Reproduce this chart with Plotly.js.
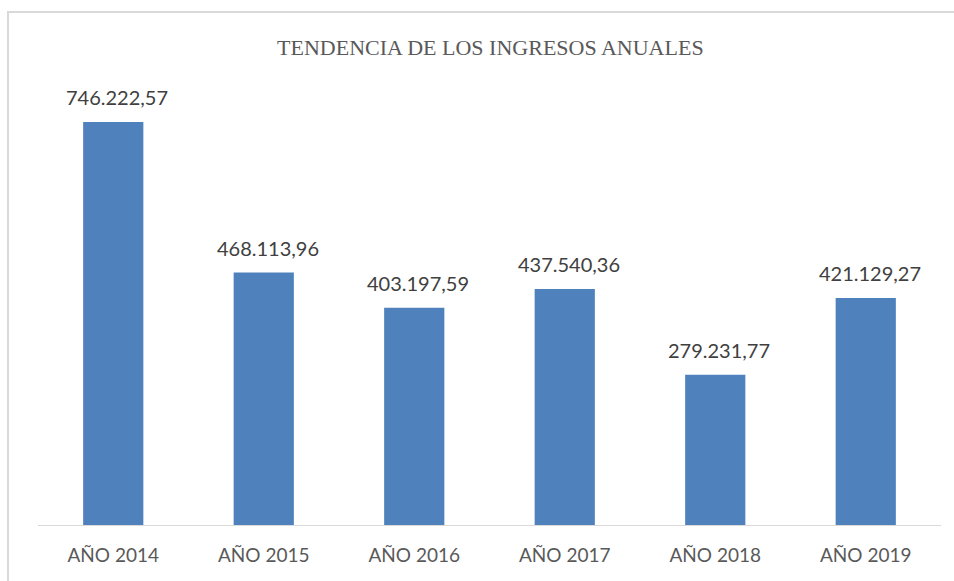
<!DOCTYPE html>
<html>
<head>
<meta charset="utf-8">
<script src="https://cdn.plot.ly/plotly-3.0.1.min.js"></script>
<style>
html,body{margin:0;padding:0;background:#fff;overflow:hidden;}
#frame{position:absolute;left:7px;top:11px;width:980px;height:620px;border:2px solid #d9d9d9;box-sizing:border-box;}
#chart{position:absolute;left:0;top:0;width:954px;height:581px;}
</style>
</head>
<body>
<div id="frame"></div>
<div id="chart"></div>
<script>
const categories = ["AÑO 2014","AÑO 2015","AÑO 2016","AÑO 2017","AÑO 2018","AÑO 2019"];
const ingresos = [746222.57, 468113.96, 403197.59, 437540.36, 279231.77, 421129.27];
const etiquetas = ["746.222,57","468.113,96","403.197,59","437.540,36","279.231,77","421.129,27"];
const titulo = "TENDENCIA DE LOS INGRESOS ANUALES";

const trace = {
  type: "bar",
  x: categories,
  y: ingresos,
  marker: {color: "#4F81BD"},
  hoverinfo: "none"
};

const annotations = categories.map((c, i) => ({
  x: c, y: ingresos[i], xref: "x", yref: "y",
  text: etiquetas[i],
  showarrow: false,
  xanchor: "center", yanchor: "bottom",
  yshift: 11, xshift: 4,
  font: {family: "Lato, 'Open Sans', sans-serif", size: 20, color: "#404040"}
}));

const layout = {
  width: 954, height: 581,
  paper_bgcolor: "rgba(0,0,0,0)",
  plot_bgcolor: "rgba(0,0,0,0)",
  margin: {l: 38, r: 13, t: 80, b: 55},
  bargap: 0.6,
  showlegend: false,
  title: {
    text: titulo,
    x: 0.514, xanchor: "center",
    y: 0.918, yanchor: "middle",
    font: {family: "'Liberation Serif', 'DejaVu Serif', serif", size: 22, color: "#595959"}
  },
  xaxis: {
    type: "category",
    showline: false,
    showgrid: false,
    zeroline: false,
    ticks: "",
    ticklabelstandoff: 16,
    tickfont: {family: "Lato, 'Open Sans', sans-serif", size: 19, color: "#595959"}
  },
  yaxis: {
    range: [0, 823700],
    visible: false,
    showgrid: false,
    zeroline: false
  },
  annotations: annotations,
  shapes: [{
    type: "line", xref: "paper", yref: "y",
    x0: 0, x1: 1, y0: 0, y1: 0,
    line: {color: "#d9d9d9", width: 2}
  }]
};

Plotly.newPlot("chart", [trace], layout, {displayModeBar: false, staticPlot: true});
</script>
</body>
</html>
